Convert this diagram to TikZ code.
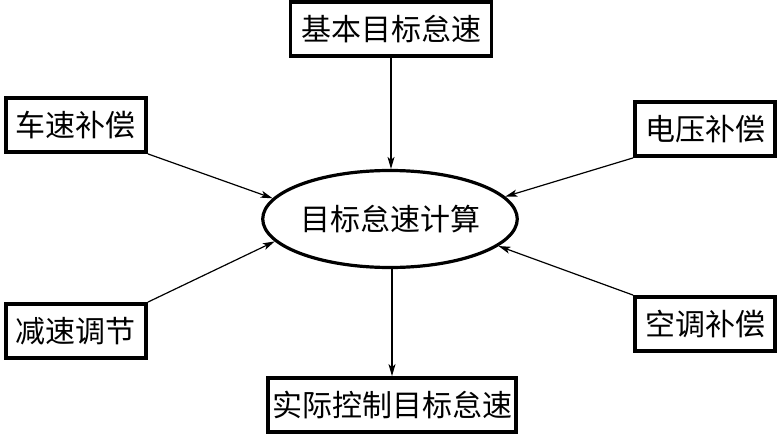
\documentclass[tikz,border=0pt]{standalone}
\usepackage{fontspec}
\newfontfamily\cjk{Noto Sans CJK SC}
\usepackage{tikz}
\usetikzlibrary{arrows.meta,shapes.geometric}
\tikzset{
  flowbox/.style={
    draw=black,
    line width=3.8pt,
    fill=white,
    minimum height=54pt,
    inner sep=0pt,
    align=center,
    font=\cjk\fontsize{30}{33}\selectfont
  },
  calcnode/.style={
    ellipse,
    draw=black,
    line width=3.2pt,
    minimum width=250pt,
    minimum height=97pt,
    inner sep=0pt,
    font=\cjk\fontsize{30}{33}\selectfont
  },
  arrow/.style={
    -{Stealth[length=12pt,width=7pt,inset=3pt]},
    line width=1.2pt,
    draw=black
  }
}
\begin{document}
\begin{tikzpicture}[x=1pt,y=-1pt]
\useasboundingbox (0,0) rectangle (779,436);
\node[calcnode] (calc) at (390,219) {目标怠速计算};
\node[flowbox, minimum width=201pt] (base) at (391,29) {基本目标怠速};
\node[flowbox, minimum width=140pt] (speed) at (76,125) {车速补偿};
\node[flowbox, minimum width=140pt] (volt) at (705,129) {电压补偿};
\node[flowbox, minimum width=140pt] (decel) at (76,331) {减速调节};
\node[flowbox, minimum width=140pt] (ac) at (705,324) {空调补偿};
\node[flowbox, minimum width=248pt] (final) at (392,405) {实际控制目标怠速};
\draw[arrow] (base.south) -- (base.south |- calc.north);
\draw[arrow] (speed.south east) -- (calc.170);
\draw[arrow] (volt.south west) -- (calc.11);
\draw[arrow] (decel.north east) -- (calc.191);
\draw[arrow] (ac.north west) -- (calc.346);
\draw[arrow] (calc.south -| final.north) -- (final.north);
\end{tikzpicture}
\end{document}
